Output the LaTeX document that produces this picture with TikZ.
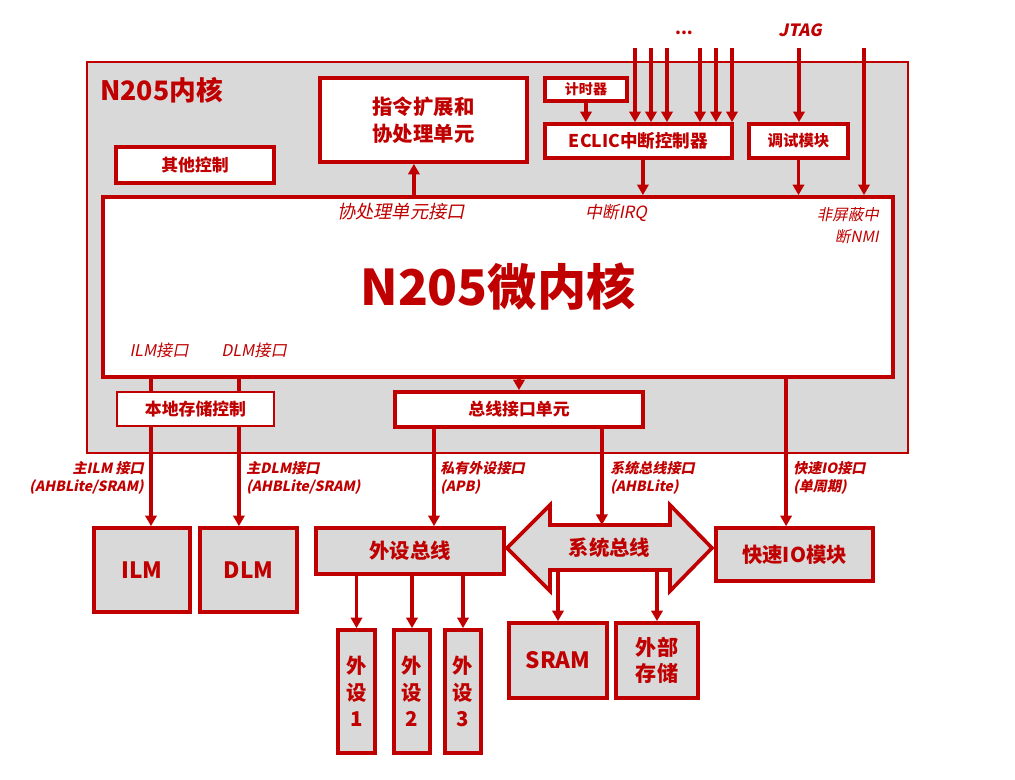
\documentclass[tikz,border=0pt]{standalone}
\usepackage{fontspec}
\setmainfont{Noto Sans CJK SC}[AutoFakeSlant=0.2]
\newfontfamily\slfont{Noto Sans CJK SC}[UprightFeatures={FakeSlant=0.2},BoldFeatures={FakeSlant=0.2}]
\usetikzlibrary{arrows.meta,calc}
\definecolor{cred}{RGB}{192,0,0}
\definecolor{cgray}{RGB}{217,217,217}
\newcommand\fsz[2]{\fontsize{#1}{#2}\selectfont}

\begin{document}
\begin{tikzpicture}[x=0.025cm,y=-0.025cm,
    box/.style={draw=cred,line width=2.6pt,fill=white,text=cred,inner sep=0pt,align=center},
    gbox/.style={box,fill=cgray},
    arr/.style={draw=cred,line width=2.6pt,-{Triangle[length=7.5pt,width=8pt]}},
    wire/.style={draw=cred,line width=2.6pt},
    lbl/.style={text=cred,inner sep=0pt},
    blbl/.style={text=cred,inner sep=0pt,font=\slfont\bfseries\fsz{10}{12.8}}]
    \useasboundingbox (0,0) rectangle (1015,780);
    \node[draw=cred,line width=1pt,fill=cgray,minimum width=20.525cm,minimum height=9.775cm] (n205) at (497.5,257.5) {};
    \node[lbl,anchor=west,font=\bfseries\fsz{19}{22}] (title) at (100,90) {N205内核};
    \node[box,minimum width=5.175cm,minimum height=2.1cm,font=\bfseries\fsz{14.5}{19}] (cop) at (423.5,120) {指令扩展和\\协处理单元};
    \node[box,minimum width=3.95cm,minimum height=0.9cm,font=\bfseries\fsz{12}{14}] (misc) at (195,165) {其他控制};
    \node[box,minimum width=2.05cm,minimum height=0.575cm,font=\bfseries\fsz{10}{12}] (timer) at (586,89.5) {计时器};
    \node[box,minimum width=4.675cm,minimum height=0.85cm,font=\bfseries\fsz{12.5}{15}] (eclic) at (638.5,141) {ECLIC中断控制器};
    \node[box,minimum width=2.475cm,minimum height=0.85cm,font=\bfseries\fsz{11}{13}] (dbg) at (798.5,141) {调试模块};
    \node[box,minimum width=19.75cm,minimum height=4.5cm,font=\bfseries\fsz{35}{40}] (core) at (498,287) {N205微内核};
    \node[box,line width=1.4pt,minimum width=3.925cm,minimum height=0.85cm,font=\bfseries\fsz{12}{14}] (lsc) at (195.5,409) {本地存储控制};
    \node[box,minimum width=6.2cm,minimum height=0.875cm,font=\bfseries\fsz{12}{14}] (biu) at (519,409.5) {总线接口单元};
    \node[lbl,font=\itshape\fsz{13}{15}] (copif) at (401,212) {协处理单元接口};
    \node[lbl,font=\itshape\fsz{12}{14}] (irq) at (616,213) {中断IRQ};
    \node[lbl,anchor=east,align=right,font=\itshape\fsz{11}{15.5}] (nmi) at (879,226) {非屏蔽中\\断NMI};
    \node[lbl,font=\itshape\fsz{11.5}{14}] (ilmif) at (159,350) {ILM接口};
    \node[lbl,font=\itshape\fsz{11.5}{14}] (dlmif) at (254,350) {DLM接口};
    \node[lbl,font=\bfseries\fsz{12}{14}] (dots) at (684,33) {...};
    \node[lbl,font=\slfont\bfseries\fsz{12}{14}] (jtag) at (800,30) {JTAG};
    \node[gbox,minimum width=2.4cm,minimum height=2.1cm,font=\bfseries\fsz{16}{19}] (ilm) at (142,570) {ILM};
    \node[gbox,minimum width=2.425cm,minimum height=2.1cm,font=\bfseries\fsz{16}{19}] (dlm) at (248.5,570) {DLM};
    \node[gbox,minimum width=4.7cm,minimum height=1.15cm,font=\bfseries\fsz{14.5}{17}] (pbus) at (410,551) {外设总线};
    \draw[draw=cred,line width=2.6pt,fill=cgray] (507,548) -- (550,505) -- (550,525) -- (670,525) -- (670,505)
        -- (712,548) -- (670,591) -- (670,570) -- (550,570) -- (550,591) -- cycle;
    \node[lbl,font=\bfseries\fsz{14.5}{17}] (sysbus) at (609.5,548) {系统总线};
    \coordinate (bustop) at (609.5,525);
    \coordinate (busbot) at (609.5,570);
    \node[gbox,minimum width=3.925cm,minimum height=1.325cm,font=\bfseries\fsz{14.5}{17}] (fio) at (794.5,554.5) {快速IO模块};
    \node[gbox,minimum width=2.45cm,minimum height=1.875cm,font=\bfseries\fsz{16}{19}] (sram) at (558,660.5) {SRAM};
    \node[gbox,minimum width=2.05cm,minimum height=1.875cm,font=\bfseries\fsz{15}{18}] (ext) at (657,660.5) {外部\\存储};
    \foreach \n/\x/\w in {1/356.5/0.925cm,2/412/0.9cm,3/463/0.9cm}
        \node[gbox,minimum width=\w,minimum height=3.075cm,font=\bfseries\fsz{14.5}{19}] (p\n) at (\x,691.5) {外\\设\\\n};
    \node[blbl,anchor=east,align=right] (ilmlbl) at (144,478) {主ILM 接口\\(AHBLite/SRAM)};
    \node[blbl,anchor=west,align=left] (dlmlbl) at (246,478) {主DLM接口\\(AHBLite/SRAM)};
    \node[blbl,anchor=west,align=left] (apblbl) at (440,478) {私有外设接口\\(APB)};
    \node[blbl,anchor=west,align=left] (ahblbl) at (610,478) {系统总线接口\\(AHBLite)};
    \node[blbl,anchor=west,align=left] (fiolbl) at (793,478) {快速IO接口\\(单周期)};
    \foreach \x in {635,651,667,700,716,732} {
        \coordinate (in\x) at (\x,48);
        \draw[arr] (in\x) -- (in\x |- eclic.north);
    }
    \coordinate (jtagin) at (799,48);
    \coordinate (nmiin) at (864,48);
    \draw[arr] (jtagin) -- (jtagin |- dbg.north);
    \draw[arr] (nmiin) -- (nmiin |- core.north);
    \draw[arr] (timer.south) -- (eclic.north -| timer.south);
    \draw[arr] ([xshift=0.11cm]eclic.south) -- ([xshift=0.11cm]eclic.south |- core.north);
    \draw[arr] (dbg.south) -- (dbg.south |- core.north);
    \draw[arr] ([xshift=-0.24cm]cop.south |- core.north) -- ([xshift=-0.24cm]cop.south);
    \draw[arr] (biu.north |- core.south) -- (biu.north);
    \coordinate (ilmx) at ([xshift=0.225cm]ilm.north);
    \coordinate (dlmx) at ([xshift=-0.24cm]dlm.north);
    \coordinate (apbx) at ([xshift=0.6cm]pbus.north);
    \coordinate (ahbx) at ([xshift=-0.19cm]bustop);
    \coordinate (fiox) at ([xshift=-0.21cm]fio.north);
    \draw[wire] (ilmx |- core.south) -- (ilmx |- lsc.north);
    \draw[arr] (ilmx |- lsc.south) -- (ilmx);
    \draw[wire] (dlmx |- core.south) -- (dlmx |- lsc.north);
    \draw[arr] (dlmx |- lsc.south) -- (dlmx);
    \draw[arr] (apbx |- biu.south) -- (apbx);
    \draw[arr] (ahbx |- biu.south) -- (ahbx);
    \draw[arr] (fiox |- core.south) -- (fiox);
    \foreach \n in {1,2,3}
        \draw[arr] (p\n.north |- pbus.south) -- (p\n.north);
    \draw[arr] (sram.north |- busbot) -- (sram.north);
    \draw[arr] (ext.north |- busbot) -- (ext.north);
\end{tikzpicture}
\end{document}
